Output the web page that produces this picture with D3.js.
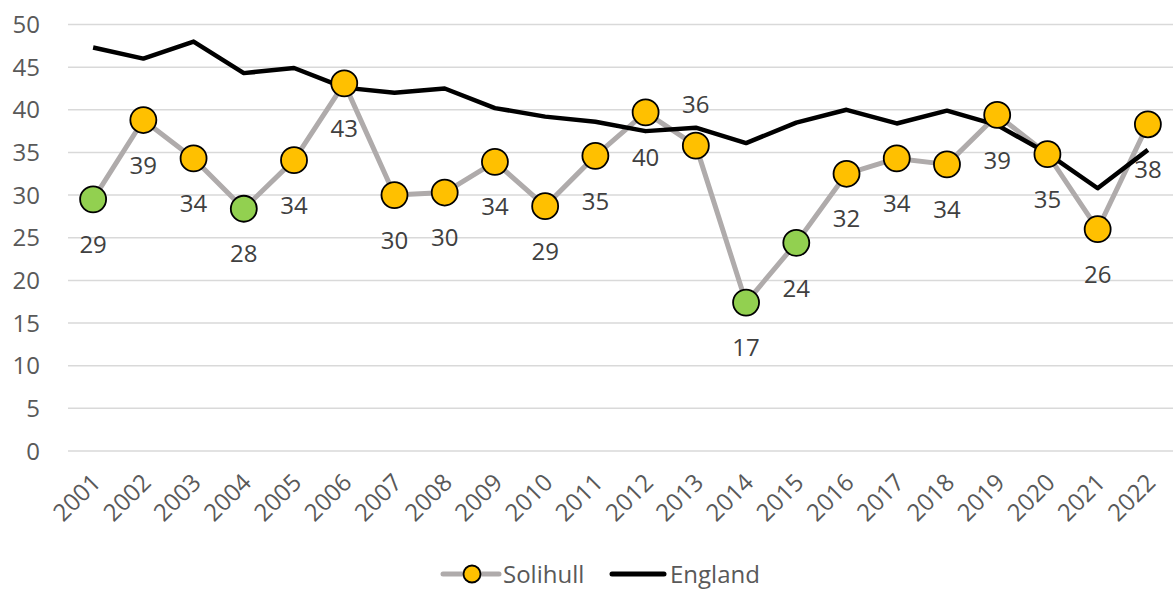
<!DOCTYPE html>
<html>
<head>
<meta charset="utf-8">
<script src="https://cdn.jsdelivr.net/npm/d3@7"></script>
<style>
  body { margin: 0; background: #fff; }
  svg { display: block; font-family: "Open Sans", sans-serif; }
</style>
</head>
<body>
<svg width="1173" height="590"></svg>
<script>
const years = ["2001","2002","2003","2004","2005","2006","2007","2008","2009","2010","2011",
  "2012","2013","2014","2015","2016","2017","2018","2019","2020","2021","2022"];
const solihull = [29.5, 38.8, 34.3, 28.4, 34.1, 43.1, 30.0, 30.3, 33.9, 28.7, 34.6,
  39.7, 35.8, 17.4, 24.4, 32.5, 34.3, 33.6, 39.4, 34.8, 26.0, 38.3];
const solihullLabels = [29, 39, 34, 28, 34, 43, 30, 30, 34, 29, 35, 40, 36, 17, 24, 32, 34, 34, 39, 35, 26, 38];
// green = significantly better, yellow = similar
const solihullFlag = ["g","y","y","g","y","y","y","y","y","y","y","y","y","g","g","y","y","y","y","y","y","y"];
const england = [47.3, 46.0, 48.0, 44.3, 44.9, 42.6, 42.0, 42.5, 40.2, 39.2, 38.6,
  37.5, 37.9, 36.1, 38.5, 40.0, 38.4, 39.9, 38.2, 34.9, 30.8, 35.3];
const yTicks = [0, 5, 10, 15, 20, 25, 30, 35, 40, 45, 50];

const svg = d3.select("svg");
const x = d3.scaleBand().domain(years).range([68, 1173]);
const y = d3.scaleLinear().domain([0, 50]).range([451, 24.5]);
const cx = (d) => x(d) + x.bandwidth() / 2;

// gridlines
svg.append("g")
  .selectAll("line")
  .data(yTicks)
  .enter()
  .append("line")
  .attr("x1", 68)
  .attr("x2", 1173)
  .attr("y1", (d) => y(d))
  .attr("y2", (d) => y(d))
  .attr("stroke", "#d9d9d9")
  .attr("stroke-width", 1.5);

// y labels
svg.append("g")
  .selectAll("text")
  .data(yTicks)
  .enter()
  .append("text")
  .attr("x", 40)
  .attr("y", (d) => y(d))
  .attr("dy", "0.36em")
  .attr("text-anchor", "end")
  .attr("fill", "#595959")
  .attr("font-size", 24)
  .text((d) => d);

// x labels
svg.append("g")
  .selectAll("text")
  .data(years)
  .enter()
  .append("text")
  .attr("transform", (d) => `translate(${cx(d) + 9}, 484) rotate(-45)`)
  .attr("text-anchor", "end")
  .attr("fill", "#595959")
  .attr("font-size", 24)
  .text((d) => d);

const line = d3.line()
  .x((d, i) => cx(years[i]))
  .y((d) => y(d));

svg.append("path")
  .datum(solihull)
  .attr("d", line)
  .attr("fill", "none")
  .attr("stroke", "#afabab")
  .attr("stroke-width", 5)
  .attr("stroke-linejoin", "round");

svg.append("path")
  .datum(england)
  .attr("d", line)
  .attr("fill", "none")
  .attr("stroke", "#000")
  .attr("stroke-width", 4.5)
  .attr("stroke-linejoin", "round");

svg.append("g")
  .selectAll("circle")
  .data(solihull)
  .enter()
  .append("circle")
  .attr("cx", (d, i) => cx(years[i]))
  .attr("cy", (d) => y(d))
  .attr("r", 13)
  .attr("fill", (d, i) => (solihullFlag[i] === "g" ? "#92d050" : "#ffc000"))
  .attr("stroke", "#000")
  .attr("stroke-width", 1.8);

// data labels (2013 sits above, the rest below)
svg.append("g")
  .selectAll("text")
  .data(solihull)
  .enter()
  .append("text")
  .attr("x", (d, i) => cx(years[i]))
  .attr("y", (d, i) => y(d) + (years[i] === "2013" ? -41 : 45))
  .attr("dy", "0.36em")
  .attr("text-anchor", "middle")
  .attr("fill", "#404040")
  .attr("font-size", 24)
  .text((d, i) => solihullLabels[i]);

// legend
const lg = svg.append("g");
lg.append("line").attr("x1", 443).attr("x2", 499).attr("y1", 574).attr("y2", 574)
  .attr("stroke", "#afabab").attr("stroke-width", 5).attr("stroke-linecap", "round");
lg.append("circle").attr("cx", 472).attr("cy", 574).attr("r", 8.5)
  .attr("fill", "#ffc000").attr("stroke", "#000").attr("stroke-width", 1.8);
lg.append("text").attr("x", 503).attr("y", 574).attr("dy", "0.36em")
  .attr("fill", "#595959").attr("font-size", 24).text("Solihull");
lg.append("line").attr("x1", 612).attr("x2", 664).attr("y1", 574).attr("y2", 574)
  .attr("stroke", "#000").attr("stroke-width", 5).attr("stroke-linecap", "round");
lg.append("text").attr("x", 670).attr("y", 574).attr("dy", "0.36em")
  .attr("fill", "#595959").attr("font-size", 24).text("England");
</script>
</body>
</html>
